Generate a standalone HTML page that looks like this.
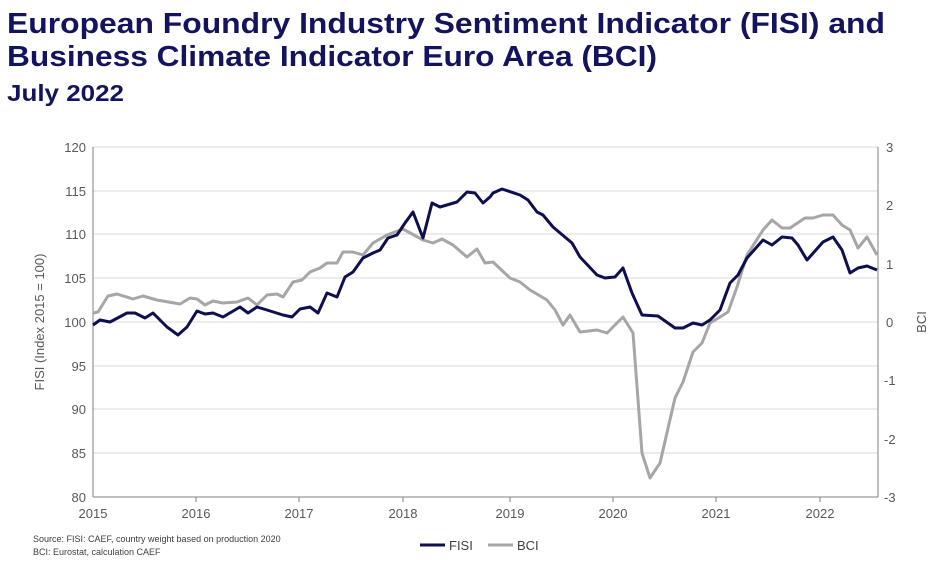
<!DOCTYPE html><html><head><style>body{margin:0;background:#fff;width:940px;height:572px;overflow:hidden;font-family:"Liberation Sans",Arial,sans-serif}</style></head><body>
<svg width="940" height="572" xmlns="http://www.w3.org/2000/svg" font-family="Liberation Sans, Arial, sans-serif">
<text x="7" y="33" font-size="29" font-weight="bold" fill="#14145e" textLength="878" lengthAdjust="spacingAndGlyphs">European Foundry Industry Sentiment Indicator (FISI) and</text>
<text x="7" y="66" font-size="29" font-weight="bold" fill="#14145e" textLength="650" lengthAdjust="spacingAndGlyphs">Business Climate Indicator Euro Area (BCI)</text>
<text x="7" y="101" font-size="23" font-weight="bold" fill="#14145e" textLength="117" lengthAdjust="spacingAndGlyphs">July 2022</text>
<g stroke="#d9d9d9" stroke-width="1">
<line x1="93" x2="878" y1="147" y2="147"/><line x1="93" x2="878" y1="191" y2="191"/><line x1="93" x2="878" y1="234" y2="234"/><line x1="93" x2="878" y1="278" y2="278"/><line x1="93" x2="878" y1="322" y2="322"/><line x1="93" x2="878" y1="366" y2="366"/><line x1="93" x2="878" y1="409" y2="409"/><line x1="93" x2="878" y1="453" y2="453"/>
</g>
<g stroke="#808080" stroke-width="1">
<line x1="93" x2="93" y1="147" y2="497"/><line x1="878" x2="878" y1="147" y2="497"/><line x1="93" x2="878" y1="497" y2="497"/>
<line x1="196" x2="196" y1="497" y2="502"/><line x1="299" x2="299" y1="497" y2="502"/><line x1="403" x2="403" y1="497" y2="502"/><line x1="510" x2="510" y1="497" y2="502"/><line x1="613" x2="613" y1="497" y2="502"/><line x1="716" x2="716" y1="497" y2="502"/><line x1="820" x2="820" y1="497" y2="502"/>
</g>
<g font-size="13" fill="#595959" text-anchor="end">
<text x="86" y="152">120</text><text x="86" y="196">115</text><text x="86" y="239">110</text><text x="86" y="283">105</text><text x="86" y="327">100</text><text x="86" y="371">95</text><text x="86" y="414">90</text><text x="86" y="458">85</text><text x="86" y="502">80</text>
</g>
<g font-size="13" fill="#595959" text-anchor="start">
<text x="886" y="152">3</text><text x="886" y="210">2</text><text x="886" y="269">1</text><text x="886" y="327">0</text><text x="884" y="385">-1</text><text x="884" y="444">-2</text><text x="884" y="502">-3</text>
</g>
<g font-size="13" fill="#595959" text-anchor="middle">
<text x="93" y="518">2015</text><text x="196" y="518">2016</text><text x="299" y="518">2017</text><text x="403" y="518">2018</text><text x="510" y="518">2019</text><text x="613" y="518">2020</text><text x="716" y="518">2021</text><text x="820" y="518">2022</text>
</g>
<text transform="translate(44,322) rotate(-90)" font-size="13" fill="#595959" text-anchor="middle">FISI (Index 2015 = 100)</text>
<text transform="translate(926,322) rotate(-90)" font-size="13" fill="#595959" text-anchor="middle">BCI</text>
<polyline fill="none" stroke="#a6a6a6" stroke-width="3" stroke-linejoin="round" points="93,313 98,312 108,296 117,294 133,299 143,296 157,300 180,304 190,298 197,299 205,305 213,301 223,303 237,302 248,298 257,305 267,295 277,294 283,297 293,282 302,280 310,272 320,268 327,263 337,263 343,252 353,252 363,255 373,243 387,235 403,229 423,240 433,243 442,239 453,245 467,257 477,249 485,263 493,262 510,278 520,282 530,290 547,300 555,310 563,325 570,315 580,332 597,330 607,333 623,317 633,333 642,453 650,478 660,463 675,398 683,382 693,352 702,343 710,323 720,317 728,312 737,287 747,255 763,230 772,220 782,228 790,228 805,218 813,218 823,215 833,215 842,225 850,230 858,248 867,237 877,255"/>
<polyline fill="none" stroke="#0d0f4f" stroke-width="3" stroke-linejoin="round" points="93,325 100,320 110,322 127,313 135,313 145,318 153,313 167,327 178,335 187,327 197,311 205,314 213,313 223,317 240,307 248,313 257,307 267,310 283,315 292,317 300,309 310,307 318,313 327,293 337,297 345,277 353,272 363,258 373,253 380,250 388,238 397,235 405,223 413,212 423,238 432,203 440,207 457,202 467,192 475,193 483,203 490,197 493,193 502,189 520,195 528,200 537,212 543,215 553,227 572,243 580,257 597,275 605,278 615,277 623,268 632,293 642,315 658,316 675,328 683,328 693,323 702,325 710,320 720,310 730,283 738,275 747,258 763,240 772,245 782,237 792,238 798,245 807,260 823,242 833,237 842,250 850,273 858,268 867,266 877,270"/>
<text x="33" y="542" font-size="9" fill="#404040">Source: FISI: CAEF, country weight based on production 2020</text>
<text x="33" y="555" font-size="9" fill="#404040">BCI: Eurostat, calculation CAEF</text>
<line x1="420" x2="445" y1="545" y2="545" stroke="#0d0f4f" stroke-width="3"/>
<text x="449" y="550" font-size="13" fill="#404040">FISI</text>
<line x1="488" x2="513" y1="545" y2="545" stroke="#a6a6a6" stroke-width="3"/>
<text x="517" y="550" font-size="13" fill="#404040">BCI</text>
</svg>
</body></html>
